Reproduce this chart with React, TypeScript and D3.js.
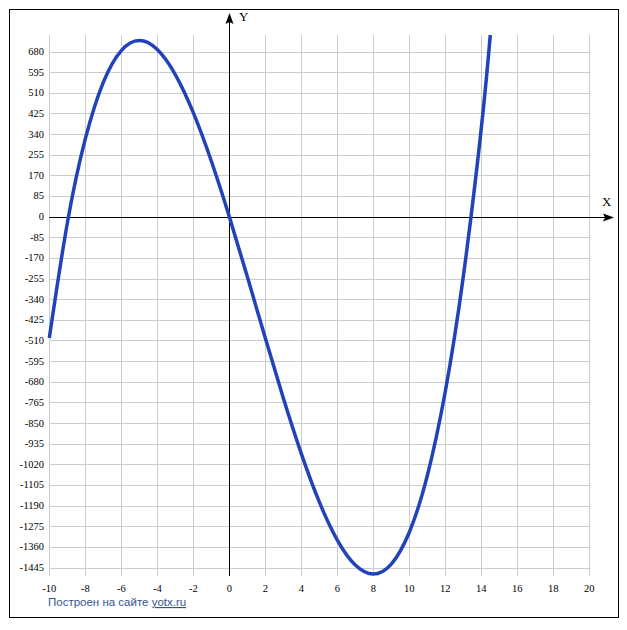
import * as d3 from "d3";
import { useEffect, useRef } from "react";

// values
const xs = [-10, -9, -8, -7, -6, -5, -4, -3, -2, -1, 0, 1, 2, 3, 4, 5, 6, 7, 8, 9, 10, 11, 12, 13, 14, 14.5];
const ys = [-500, -27, 320, 553, 684, 725, 688, 585, 428, 229, 0, -247, -500, -747, -976, -1175, -1332, -1435, -1472, -1431, -1300, -1067, -720, -247, 364, 748];

const xTicks = [-10, -8, -6, -4, -2, 0, 2, 4, 6, 8, 10, 12, 14, 16, 18, 20];
const yTicks = [680, 595, 510, 425, 340, 255, 170, 85, 0, -85, -170, -255, -340, -425, -510, -595, -680, -765, -850, -935, -1020, -1105, -1190, -1275, -1360, -1445];

function App() {
    const svgRef = useRef(null);

    useEffect(() => {
        const width = 627, height = 630;
        const left = 49.3, right = 589.3, top = 35, bottom = 576;
        const svg = d3.select(svgRef.current).attr("width", width).attr("height", height);
        svg.selectAll("*").remove();

        const x = d3.scaleLinear([-10, 20], [left, right]);
        const y = d3.scaleLinear([-1480, 748], [bottom, top]);

        svg.append("rect")
            .attr("x", 9.5).attr("y", 9.5)
            .attr("width", 609).attr("height", 608)
            .attr("fill", "#fff").attr("stroke", "#000");

        const grid = svg.append("g").attr("stroke", "#cccccc").attr("stroke-width", 1);
        grid.selectAll("line.v").data(xTicks).enter().append("line")
            .attr("x1", d => Math.round(x(d)) + 0.5).attr("x2", d => Math.round(x(d)) + 0.5)
            .attr("y1", top).attr("y2", bottom);
        grid.selectAll("line.h").data(yTicks).enter().append("line")
            .attr("x1", left).attr("x2", right)
            .attr("y1", d => Math.round(y(d)) + 0.5).attr("y2", d => Math.round(y(d)) + 0.5);

        // axes
        const x0 = Math.round(x(0)) + 0.5, y0 = Math.round(y(0)) + 0.5;
        svg.append("line").attr("x1", x0).attr("x2", x0).attr("y1", bottom).attr("y2", 20).attr("stroke", "#000");
        svg.append("path").attr("d", `M${x0},13 L${x0 - 4},24 L${x0},22 L${x0 + 4},24 Z`).attr("fill", "#000");
        svg.append("line").attr("x1", left).attr("x2", 607).attr("y1", y0).attr("y2", y0).attr("stroke", "#000");
        svg.append("path").attr("d", `M614,${y0} L603,${y0 - 4} L605,${y0} L603,${y0 + 4} Z`).attr("fill", "#000");

        svg.append("text").attr("x", 239).attr("y", 21).attr("font-family", "Liberation Serif, serif").attr("font-size", 13).text("Y");
        svg.append("text").attr("x", 602).attr("y", 206).attr("font-family", "Liberation Serif, serif").attr("font-size", 13).text("X");

        svg.selectAll("text.xt").data(xTicks).enter().append("text")
            .attr("x", d => x(d)).attr("y", 592)
            .attr("text-anchor", "middle")
            .attr("font-family", "Liberation Serif, serif").attr("font-size", 10.5)
            .text(d => d);
        svg.selectAll("text.yt").data(yTicks).enter().append("text")
            .attr("x", 44).attr("y", d => y(d) + 3.5)
            .attr("text-anchor", "end")
            .attr("font-family", "Liberation Serif, serif").attr("font-size", 10.5)
            .text(d => d);

        const line = d3.line().x((d, i) => x(xs[i])).y(d => y(d)).curve(d3.curveNatural);
        svg.append("path").attr("d", line(ys)).attr("fill", "none")
            .attr("stroke", "#2142b9").attr("stroke-width", 3.5).attr("stroke-linejoin", "round");

        const credit = svg.append("text").attr("x", 48).attr("y", 606)
            .attr("font-family", "Liberation Sans, sans-serif").attr("font-size", 11.5).attr("fill", "#34548f");
        credit.append("tspan").text("Построен на сайте ");
        credit.append("tspan").attr("text-decoration", "underline").text("yotx.ru");
    }, []);

    return <svg ref={svgRef} style={{ position: "absolute", left: 0, top: 0 }} />;
}

export default App;
